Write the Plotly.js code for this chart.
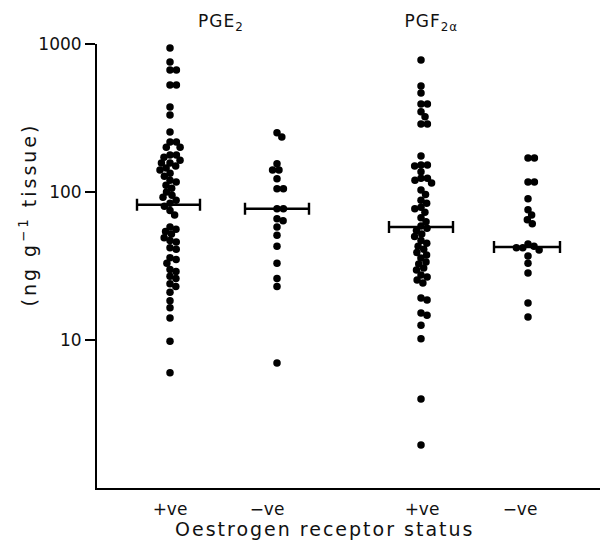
<!DOCTYPE html>
<html>
<head>
<meta charset="utf-8">
<script src="https://cdn.plot.ly/plotly-3.0.1.min.js"></script>
<style>
html,body{margin:0;padding:0;background:#fff;}
#chart{width:601px;height:541px;}
g.annotation[data-index="0"] text, g.annotation[data-index="1"] text{letter-spacing:1px;}
g.annotation[data-index="2"] text{letter-spacing:2px;}
g.annotation[data-index="3"] text{letter-spacing:3px;}
</style>
</head>
<body>
<div id="chart"></div>
<script>
// ---- data (ng g^-1 tissue) ----
const groupLabels = ['+ve', '\u2212ve', '+ve', '\u2212ve'];
const prostaglandins = ['PGE<sub>2</sub>', 'PGF<sub>2\u03b1</sub>'];

const pge2Pos = [940, 755, 667, 667, 528, 528, 375, 331, 254, 218, 218, 201, 201, 178, 178, 172, 164, 157, 157, 150,
  145, 141, 134, 128, 120, 117, 111, 106, 100, 95, 92, 88, 84, 80, 75, 70, 58, 56, 54, 52,
  49, 47, 46, 42, 41, 36, 35, 33, 30, 29, 27, 26, 24, 23, 21, 18.4, 16.5, 14.1, 9.8, 6.0];
const pge2Neg = [251, 235, 155, 141, 141, 123, 105, 105, 77, 77, 66, 64, 58, 51, 43, 33, 26, 23, 7.0];
const pgf2aPos = [780, 520, 467, 393, 393, 348, 322, 288, 288, 175, 152, 152, 150, 137, 124, 124, 120, 115, 103, 96,
  88, 84, 79, 77, 73, 67, 63, 59, 57, 55, 52, 50, 47, 45, 43, 41, 39, 37.5, 35.8, 33.7,
  32.6, 30.6, 29.7, 27.5, 26.7, 25.4, 24.3, 19.2, 18.6, 15.2, 14.7, 12.6, 10.2, 4.0, 1.95];
const pgf2aNeg = [170, 170, 117, 117, 90, 76, 70, 65, 61, 44.5, 43, 42, 42, 40.5, 37, 33, 28.4, 17.8, 14.3];

const medians = [82, 77, 58, 42.5];

// ---- layout geometry ----
const W = 601, H = 541;
const M = {l: 97, r: 1, t: 44, b: 53};
const xRange = [0, 5.03];
const yRange = [0, 3];
const pxPerX = (W - M.l - M.r) / (xRange[1] - xRange[0]);
const pxPerDecade = (H - M.t - M.b) / (yRange[1] - yRange[0]);
const dotCenters = [0.73, 1.80, 3.24, 4.31];
const medianCenters = [0.715, 1.80, 3.24, 4.30];
const medianHalfWidth = [0.315, 0.32, 0.32, 0.33];
const labelPos = [0.73, 1.70, 3.25, 4.23];

// simple beeswarm: offsets (in x units) so dots don't overlap in pixel space
function swarm(vals, D) {
  const idx = vals.map((v, i) => i).sort((a, b) => vals[b] - vals[a]);
  const ys = vals.map(v => Math.log10(v) * pxPerDecade);
  const placed = [];
  const off = new Array(vals.length).fill(0);
  idx.forEach(i => {
    const y = ys[i];
    const ints = [];
    placed.forEach(p => {
      const dy = Math.abs(p.y - y);
      if (dy < D) { const w = Math.sqrt(D * D - dy * dy); ints.push([p.x - w, p.x + w]); }
    });
    const cands = [0];
    ints.forEach(([a, b]) => { cands.push(a, b); });
    cands.sort((a, b) => Math.abs(a) - Math.abs(b) || b - a);
    let best = 0;
    for (const c of cands) {
      if (ints.every(([a, b]) => !(c > a + 1e-6 && c < b - 1e-6))) { best = c; break; }
    }
    placed.push({x: best, y: y});
    off[i] = best / pxPerX;
  });
  return off;
}

const groups = [pge2Pos, pge2Neg, pgf2aPos, pgf2aNeg];
const traces = [];
groups.forEach((vals, g) => {
  const off = swarm(vals, 6.4);
  traces.push({
    type: 'scatter', mode: 'markers',
    x: vals.map((v, i) => dotCenters[g] + off[i]),
    y: vals,
    marker: {color: '#000', size: 7.5, line: {width: 0}},
    hoverinfo: 'y', showlegend: false
  });
});
// median bars
traces.push({
  type: 'scatter', mode: 'markers',
  x: medianCenters, y: medians,
  marker: {color: 'rgba(0,0,0,0)', size: 1},
  error_x: {type: 'data', array: medianHalfWidth, symmetric: true, color: '#000', thickness: 2.4, width: 6},
  showlegend: false, hoverinfo: 'y'
});

const font = {family: 'DejaVu Sans, Liberation Sans, Arial, sans-serif', color: '#111'};

const annDefs = [
  {text: prostaglandins[0], x: 221, y: 22, size: 17},
  {text: prostaglandins[1], x: 431, y: 22, size: 17},
  {text: 'Oestrogen receptor status', x: 324, y: 529, size: 19},
  {text: '(ng g<sup>\u22121</sup> tissue)', x: 28, y: 215, size: 19, angle: -90}
];

const layout = {
  width: W, height: H,
  margin: M,
  paper_bgcolor: '#fff', plot_bgcolor: '#fff',
  showlegend: false,
  font: Object.assign({size: 16}, font),
  xaxis: {
    range: xRange, showgrid: false, zeroline: false,
    showline: true, linecolor: '#000', linewidth: 2,
    ticks: '', tickvals: labelPos, ticktext: groupLabels,
    ticklabelstandoff: 5,
    tickfont: Object.assign({size: 17}, font)
  },
  yaxis: {
    type: 'log', range: yRange, showgrid: false, zeroline: false,
    showline: true, linecolor: '#000', linewidth: 2,
    ticks: 'outside', ticklen: 10, tickwidth: 2, tickcolor: '#000',
    tickvals: [10, 100, 1000], ticktext: ['10', '100', '1000'],
    tickfont: Object.assign({size: 17}, font)
  },
  annotations: annDefs.map(a => ({
    text: a.text,
    xref: 'paper', yref: 'paper',
    x: (a.x - M.l) / (W - M.l - M.r),
    y: 1 - (a.y - M.t) / (H - M.t - M.b),
    xanchor: 'center', yanchor: 'middle',
    textangle: a.angle || 0,
    showarrow: false,
    font: Object.assign({size: a.size}, font)
  }))
};

Plotly.newPlot('chart', traces, layout, {displayModeBar: false, staticPlot: true});
</script>
</body>
</html>
